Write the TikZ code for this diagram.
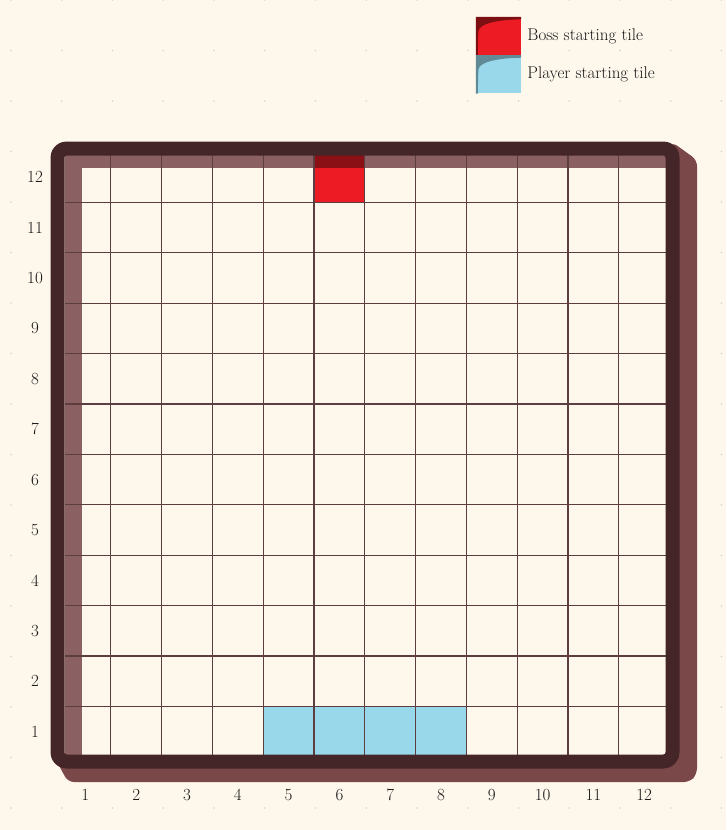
\documentclass[tikz,border=0pt]{standalone}
\usepackage{tikz}
\usetikzlibrary{positioning}

\definecolor{paper}{HTML}{FEF7EC}
\definecolor{dotgrey}{HTML}{D9D2C7}
\definecolor{framedark}{HTML}{452628}
\definecolor{frameshadow}{HTML}{7A4849}
\definecolor{innerband}{HTML}{8A6062}
\definecolor{gridbrown}{HTML}{5C3E40}
\definecolor{bossred}{HTML}{ED1C24}
\definecolor{bossdark}{HTML}{8B1015}
\definecolor{keydark}{HTML}{7B0F12}
\definecolor{playerblue}{HTML}{99D8EA}
\definecolor{playerdark}{HTML}{5F8A96}
\definecolor{labeltext}{HTML}{161616}

\begin{document}
\begin{tikzpicture}[
        x = 1pt, y = -1pt, % pixel units, y grows downward
        line join = round,
        every node/.style = {font=\fontsize{17}{20}\selectfont, text=labeltext, inner sep=0pt}
    ]

    \tikzstyle{gridline}=[draw=gridbrown, line width=1.2pt]
    \tikzstyle{frame}=[draw=framedark, line width=14pt, rounded corners=9pt]
    \tikzstyle{keybox}=[minimum width=45pt, minimum height=38pt]

    \def\cw{50.8} % cell width
    \def\ch{50.4} % cell height

    \useasboundingbox[fill=paper] (0,0) rectangle (726,830);

    % faint dots of the page
    \foreach \i in {0,...,14}
        \foreach \j in {0,...,16}
            \fill[dotgrey] ({11+\i*50.75},{808-\j*50.5}) circle (0.8pt);

    % shadow of the board
    \fill[frameshadow, rounded corners=6pt]
        (57,762) -- (68,782) -- (690,782) -- (697,774) -- (697,160) -- (672,142) -- cycle;

    % board
    \fill[paper] (65,155) rectangle (666,755);
    \fill[innerband] (65,155) rectangle (82,755);
    \fill[innerband] (65,155) rectangle (666,168);

    % starting tiles
    \fill[bossdark] ({60+5*\cw},155) rectangle ({60+6*\cw},168);
    \fill[bossred] ({60+5*\cw},168) rectangle ({60+6*\cw},{152+\ch});
    \foreach \c in {5,...,8}
        \fill[playerblue] ({60+(\c-1)*\cw},{152+11*\ch}) rectangle ({60+\c*\cw},755);

    % grid
    \foreach \i in {1,...,11} {
        \draw[gridline] ({60+\i*\cw},155) -- ({60+\i*\cw},755);
        \draw[gridline] (65,{152+\i*\ch}) -- (666,{152+\i*\ch});
    }

    \draw[frame] (57.5,148.5) rectangle (672.5,761.5);

    % row and column numbers
    \foreach \r in {1,...,12}
        \node (row\r) at (35,{152+(12.5-\r)*\ch}) {\r};
    \foreach \c in {1,...,12}
        \node (col\c) at ({60+(\c-0.5)*\cw},795) {\c};

    % legend
    \node[keybox, fill=bossred] (bosskey) at (498.5,36) {};
    \node[keybox, fill=playerblue] (playerkey) [below=0pt of bosskey] {};
    \fill[keydark] (bosskey.north west) -- (bosskey.north east) -- ++(0,2.5)
        .. controls ++(-25,0.5) and ++(0,-8) .. ([xshift=2.5pt,yshift=-15pt]bosskey.north west)
        -- ([xshift=2pt]bosskey.south west) -- (bosskey.south west) -- cycle;
    \fill[playerdark] (playerkey.north west) -- (playerkey.north east) -- ++(0,2.5)
        .. controls ++(-25,0.5) and ++(0,-8) .. ([xshift=2.5pt,yshift=-15pt]playerkey.north west)
        -- ([xshift=2pt]playerkey.south west) -- (playerkey.south west) -- cycle;

    \node[anchor=west] (bosslabel) at ([xshift=6pt]bosskey.east) {Boss starting tile};
    \node[anchor=west] (playerlabel) at ([xshift=6pt]playerkey.east) {Player starting tile};

\end{tikzpicture}
\end{document}
